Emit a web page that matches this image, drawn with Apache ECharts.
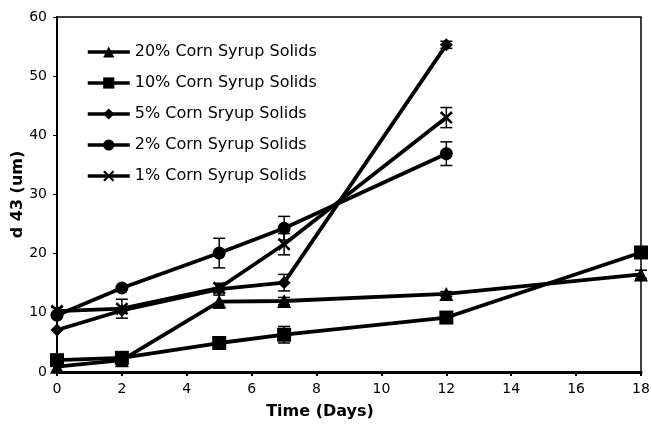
<!DOCTYPE html>
<html><head><meta charset="utf-8">
<script src="https://cdn.jsdelivr.net/npm/echarts@6/dist/echarts.min.js"></script>
<style>html,body{margin:0;padding:0;background:#fff}#c{width:652px;height:425px}</style>
</head><body><div id="c"></div>
<script>
const seriesNames = ['20% Corn Syrup Solids','10% Corn Syrup Solids','5% Corn Sryup Solids','2% Corn Syrup Solids','1% Corn Syrup Solids'];
const days20 = [0, 2, 5, 7, 12, 18];
const vals20 = [0.9, 2.0, 11.9, 12.0, 13.2, 16.5];
const err20  = [0, 0, 1.1, 0.6, 0.4, 0.7];
const days10 = [0, 2, 5, 7, 12, 18];
const vals10 = [2.0, 2.4, 4.9, 6.3, 9.2, 20.2];
const err10  = [0, 0, 0, 1.4, 0, 0];
const days5  = [0, 2, 5, 7, 12];
const vals5  = [7.1, 10.4, 14.0, 15.1, 55.3];
const err5   = [0, 0, 0, 1.4, 0.6];
const days2  = [0, 2, 5, 7, 12];
const vals2  = [9.6, 14.2, 20.1, 24.3, 36.9];
const err2   = [0, 0, 2.5, 2.0, 2.0];
const days1  = [0, 2, 5, 7, 12];
const vals1  = [10.3, 10.7, 14.2, 21.6, 43.0];
const err1   = [0.6, 1.6, 0.8, 1.8, 1.7];
const xTicks = [0,2,4,6,8,10,12,14,16,18];
const yTicks = [0,10,20,30,40,50,60];

const crossPath = 'path://M0,1.4 L1.4,0 L5,3.6 L8.6,0 L10,1.4 L6.4,5 L10,8.6 L8.6,10 L5,6.4 L1.4,10 L0,8.6 L3.6,5 Z';
const symbols = ['triangle','rect','diamond','circle',crossPath];
const sizes = [14,14,13,13,13];
const allDays = [days20,days10,days5,days2,days1];
const allVals = [vals20,vals10,vals5,vals2,vals1];
const allErr = [err20,err10,err5,err2,err1];

const series = [];
seriesNames.forEach((n,i)=>{
  series.push({
    name:n, type:'line', data: allDays[i].map((d,j)=>[d, allVals[i][j]]),
    symbol: symbols[i], symbolSize: sizes[i], showAllSymbol:true,
    lineStyle:{color:'#000', width:3.8}, itemStyle:{color:'#000', borderWidth:0},
    z:3
  });
  const eb = [];
  allDays[i].forEach((d,j)=>{ if(allErr[i][j]>0) eb.push([d, allVals[i][j]-allErr[i][j], allVals[i][j]+allErr[i][j]]); });
  series.push({
    type:'custom', name:n+'_err', data:eb, z:4,
    renderItem:(params, api)=>{
      const x = api.value(0);
      const lo = api.coord([x, api.value(1)]);
      const hi = api.coord([x, api.value(2)]);
      const w = 6;
      return {type:'group', children:[
        {type:'line', shape:{x1:lo[0],y1:lo[1],x2:hi[0],y2:hi[1]}, style:{stroke:'#000',lineWidth:1.5}},
        {type:'line', shape:{x1:lo[0]-w,y1:lo[1],x2:lo[0]+w,y2:lo[1]}, style:{stroke:'#000',lineWidth:1.5}},
        {type:'line', shape:{x1:hi[0]-w,y1:hi[1],x2:hi[0]+w,y2:hi[1]}, style:{stroke:'#000',lineWidth:1.5}}
      ]};
    },
    encode:{x:0, y:[1,2]}, silent:true
  });
});

const chart = echarts.init(document.getElementById('c'), null, {renderer:'canvas'});
chart.setOption({
  animation:false,
  backgroundColor:'#fff',
  textStyle:{fontFamily:'DejaVu Sans'},
  grid:{left:57, right:11, top:17, bottom:53, show:true, borderColor:'#000', borderWidth:1.5, outerBoundsMode:'none', containLabel:false},
  legend:{
    data: seriesNames, orient:'vertical', left:81, top:39, itemGap:15,
    itemWidth:42, itemHeight:14,
    lineStyle:{width:3.5, color:'#000'},
    textStyle:{fontSize:16, color:'#000', fontFamily:'DejaVu Sans'}
  },
  xAxis:{
    type:'value', min:xTicks[0], max:xTicks[xTicks.length-1], interval:2,
    name:'Time (Days)', nameLocation:'middle', nameGap:32, nameMoveOverlap:false,
    nameTextStyle:{fontWeight:'bold', fontSize:16, color:'#000', padding:[0,58,0,0]},
    axisLine:{lineStyle:{color:'#000', width:3}},
    axisTick:{inside:false, length:4, lineStyle:{color:'#000', width:2}},
    axisLabel:{color:'#000', fontSize:14, margin:10},
    splitLine:{show:false}
  },
  yAxis:{
    type:'value', min:yTicks[0], max:yTicks[yTicks.length-1], interval:10,
    name:'d 43 (um)', nameLocation:'middle', nameGap:31, nameMoveOverlap:false,
    nameTextStyle:{fontWeight:'bold', fontSize:16, color:'#000'},
    axisLine:{show:true, lineStyle:{color:'#000', width:2}},
    axisTick:{show:true, length:4, lineStyle:{color:'#000'}},
    axisLabel:{color:'#000', fontSize:14, margin:10},
    splitLine:{show:false}
  },
  series: series
});
</script></body></html>
